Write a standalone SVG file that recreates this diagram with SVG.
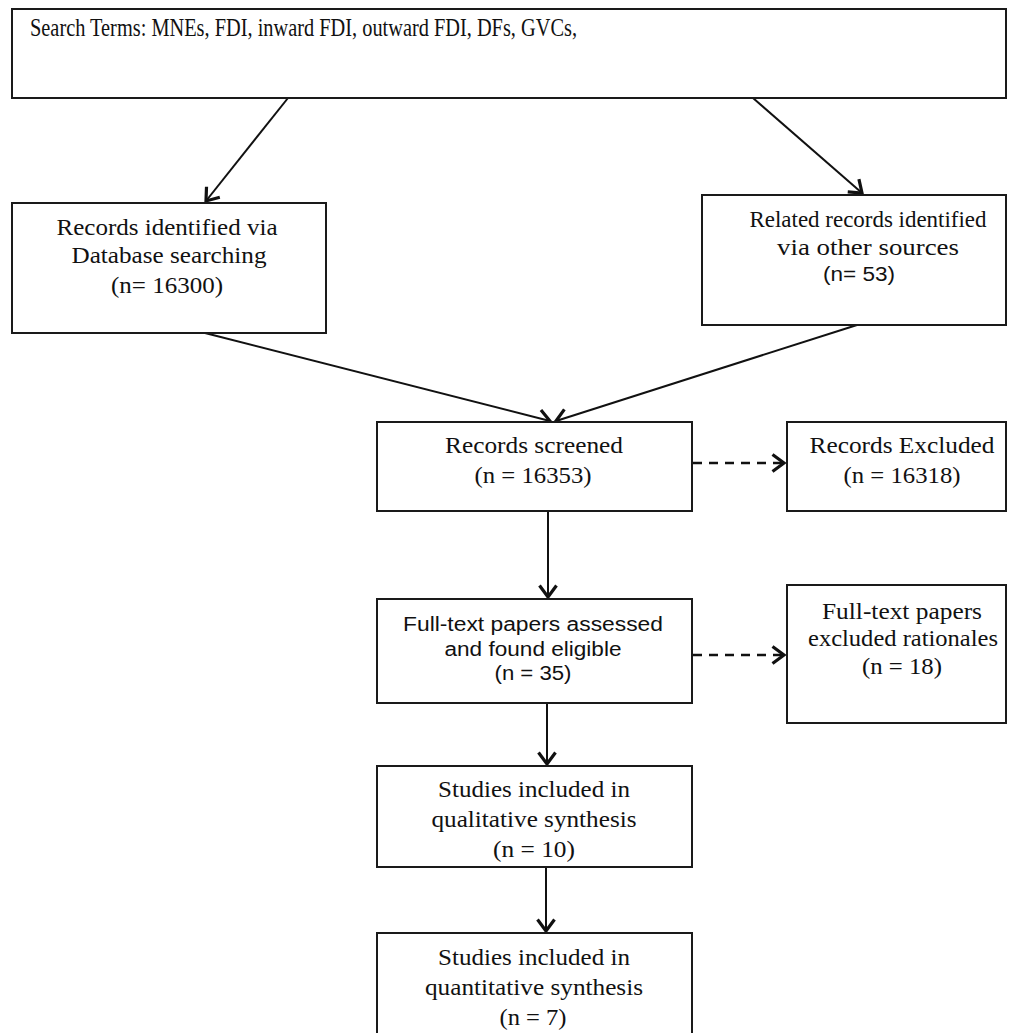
<svg xmlns="http://www.w3.org/2000/svg" width="1009" height="1033" viewBox="0 0 1009 1033">
<style>
.box{fill:#fff;stroke:#1a1a1a;stroke-width:2}
.t{font-family:"Liberation Serif","Times New Roman",serif;font-size:23px;fill:#111;text-anchor:middle}
.s{font-family:"Liberation Sans",Arial,sans-serif;font-size:20px;fill:#111;text-anchor:middle}
.c{fill:none;stroke:#111;stroke-width:2}
.d{stroke-dasharray:9 7;stroke-width:2.6}
</style>
<defs>
<marker id="ah" viewBox="0 0 15 20" refX="13" refY="10" markerWidth="15" markerHeight="20" markerUnits="userSpaceOnUse" orient="auto">
<path d="M1.5,1.5 L13,10 L1.5,18.5" fill="none" stroke="#111" stroke-width="3.2"/>
</marker>
</defs>
<rect width="1009" height="1033" fill="#fff"/>
<g id="connectors">
<line class="c" x1="288" y1="98" x2="206" y2="201" marker-end="url(#ah)"/>
<line class="c" x1="753" y1="98" x2="862" y2="193" marker-end="url(#ah)"/>
<line class="c" x1="205" y1="333" x2="550" y2="421" marker-end="url(#ah)"/>
<line class="c" x1="857" y1="325" x2="556" y2="421" marker-end="url(#ah)"/>
<line class="c" x1="548" y1="511" x2="548" y2="597" marker-end="url(#ah)"/>
<line class="c" x1="547" y1="703" x2="547" y2="764" marker-end="url(#ah)"/>
<line class="c" x1="546" y1="867" x2="546" y2="931" marker-end="url(#ah)"/>
<line class="c d" x1="693" y1="463" x2="784" y2="463" marker-end="url(#ah)"/>
<line class="c d" x1="693" y1="655" x2="784" y2="655" marker-end="url(#ah)"/>
</g>
<g id="search-terms">
<rect class="box" x="12" y="9" width="994" height="89"/>
<text class="t" x="30" y="36" style="text-anchor:start;font-size:25px" textLength="547" lengthAdjust="spacingAndGlyphs">Search Terms: MNEs, FDI, inward FDI, outward FDI, DFs, GVCs,</text>
</g>
<g id="database">
<rect class="box" x="12" y="203" width="314" height="130"/>
<text class="t" x="167" y="235" textLength="221" lengthAdjust="spacingAndGlyphs">Records identified via</text>
<text class="t" x="169" y="263" textLength="195" lengthAdjust="spacingAndGlyphs">Database searching</text>
<text class="t" x="167" y="293" textLength="112" lengthAdjust="spacingAndGlyphs">(n= 16300)</text>
</g>
<g id="other-sources">
<rect class="box" x="702" y="195" width="304" height="130"/>
<text class="t" x="868" y="227" textLength="237" lengthAdjust="spacingAndGlyphs">Related records identified</text>
<text class="t" x="868" y="255" textLength="182" lengthAdjust="spacingAndGlyphs">via other sources</text>
<text class="s" x="859" y="281" textLength="72" lengthAdjust="spacingAndGlyphs">(n= 53)</text>
</g>
<g id="screened">
<rect class="box" x="377" y="422" width="315" height="89"/>
<text class="t" x="534" y="453" textLength="178" lengthAdjust="spacingAndGlyphs">Records screened</text>
<text class="t" x="533" y="483" textLength="117" lengthAdjust="spacingAndGlyphs">(n = 16353)</text>
</g>
<g id="excluded">
<rect class="box" x="787" y="422" width="219" height="89"/>
<text class="t" x="902" y="453" textLength="185" lengthAdjust="spacingAndGlyphs">Records Excluded</text>
<text class="t" x="902" y="483" textLength="117" lengthAdjust="spacingAndGlyphs">(n = 16318)</text>
</g>
<g id="fulltext">
<rect class="box" x="377" y="599" width="315" height="104"/>
<text class="s" x="533" y="631" textLength="260" lengthAdjust="spacingAndGlyphs">Full-text papers assessed</text>
<text class="s" x="533" y="656" textLength="177" lengthAdjust="spacingAndGlyphs">and found eligible</text>
<text class="s" x="533" y="680" textLength="77" lengthAdjust="spacingAndGlyphs">(n = 35)</text>
</g>
<g id="fulltext-excluded">
<rect class="box" x="787" y="585" width="219" height="138"/>
<text class="t" x="902" y="619" textLength="160" lengthAdjust="spacingAndGlyphs">Full-text papers</text>
<text class="t" x="903" y="646" textLength="190" lengthAdjust="spacingAndGlyphs">excluded rationales</text>
<text class="t" x="902" y="674" textLength="80" lengthAdjust="spacingAndGlyphs">(n = 18)</text>
</g>
<g id="qualitative">
<rect class="box" x="377" y="766" width="315" height="101"/>
<text class="t" x="534" y="797" textLength="192" lengthAdjust="spacingAndGlyphs">Studies included in</text>
<text class="t" x="534" y="827" textLength="205" lengthAdjust="spacingAndGlyphs">qualitative synthesis</text>
<text class="t" x="534" y="857" textLength="82" lengthAdjust="spacingAndGlyphs">(n = 10)</text>
</g>
<g id="quantitative">
<rect class="box" x="377" y="933" width="315" height="110"/>
<text class="t" x="534" y="965" textLength="192" lengthAdjust="spacingAndGlyphs">Studies included in</text>
<text class="t" x="534" y="995" textLength="218" lengthAdjust="spacingAndGlyphs">quantitative synthesis</text>
<text class="t" x="533" y="1025" textLength="67" lengthAdjust="spacingAndGlyphs">(n = 7)</text>
</g>
</svg>
